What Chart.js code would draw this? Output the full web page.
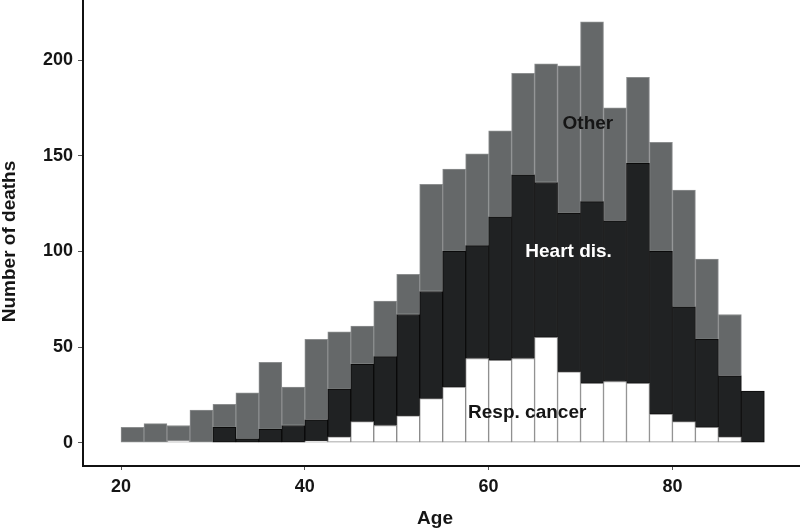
<!DOCTYPE html>
<html>
<head>
<meta charset="utf-8">
<script src="https://cdn.jsdelivr.net/npm/chart.js@4.4.1/dist/chart.umd.min.js"></script>
<style>
html,body{margin:0;padding:0;background:#ffffff;}
#wrap{width:800px;height:529px;}
</style>
</head>
<body>
<div id="wrap"><canvas id="c" width="800" height="529"></canvas></div>
<script>
// ---- data (age bins of 2.5 years, counts of deaths per cause) ----
const binStarts = [20, 22.5, 25, 27.5, 30, 32.5, 35, 37.5, 40, 42.5, 45, 47.5, 50, 52.5,
                   55, 57.5, 60, 62.5, 65, 67.5, 70, 72.5, 75, 77.5, 80, 82.5, 85, 87.5];
const binWidth = 2.5;
const respCancer   = [0, 0, 1, 0, 0, 0, 0, 0, 1, 3, 11, 9, 14, 23, 29, 44, 43, 44, 55, 37, 31, 32, 31, 15, 11, 8, 3, 0];
const heartDisease = [0, 0, 0, 0, 8, 2, 7, 9, 11, 25, 30, 36, 53, 56, 71, 59, 75, 96, 81, 83, 95, 84, 115, 85, 60, 46, 32, 27];
const otherCauses  = [8, 10, 8, 17, 12, 24, 35, 20, 42, 30, 20, 29, 21, 56, 43, 48, 45, 53, 62, 77, 94, 59, 45, 57, 61, 42, 32, 0];
const seriesNames = ['Resp. cancer', 'Heart dis.', 'Other'];
const xTickValues = [20, 40, 60, 80];
const yTickValues = [0, 50, 100, 150, 200];
const xTitle = 'Age';
const yTitle = 'Number of deaths';

// ---- styling ----
const FONT = '"Liberation Sans", Arial, Helvetica, sans-serif';
const TEXT = '#151515';
const styles = [
  {bg: '#ffffff', border: '#8a8a8a'},
  {bg: '#202223', border: '#0a0a0a'},
  {bg: '#656869', border: '#8c8e8f'}
];
// in-plot series labels, anchored in data units (age, deaths)
const seriesLabelAnchors = [
  {text: 'Other',        x: 70.8, y: 163.8, color: '#151515'},
  {text: 'Heart dis.',   x: 68.7, y: 97.2,  color: '#ffffff'},
  {text: 'Resp. cancer', x: 64.2, y: 12.75, color: '#151515'}
];

const seriesValues = [respCancer, heartDisease, otherCauses];
const datasets = seriesValues.map((vals, i) => ({
  label: seriesNames[i],
  data: vals.map((v, k) => ({x: binStarts[k] + binWidth / 2, y: v})),
  backgroundColor: styles[i].bg,
  borderColor: styles[i].border,
  borderWidth: 1,
  borderSkipped: false,
  barPercentage: 1.0,
  categoryPercentage: 1.0
}));

const annotate = {
  id: 'annotate',
  afterDatasetsDraw(chart) {
    const {ctx, scales: {x, y}} = chart;
    ctx.save();
    ctx.font = 'bold 19px ' + FONT;
    ctx.textAlign = 'center';
    ctx.textBaseline = 'alphabetic';
    seriesLabelAnchors.forEach(a => {
      ctx.fillStyle = a.color;
      ctx.fillText(a.text, x.getPixelForValue(a.x), y.getPixelForValue(a.y));
    });
    ctx.restore();
  },
  afterDraw(chart) {
    const {ctx} = chart;
    ctx.save();
    ctx.font = 'bold 19px ' + FONT;
    ctx.fillStyle = TEXT;
    ctx.textAlign = 'center';
    ctx.textBaseline = 'alphabetic';
    ctx.fillText(xTitle, 435, 523.5);
    ctx.translate(14.5, 241.5);
    ctx.rotate(-Math.PI / 2);
    ctx.fillText(yTitle, 0, 0);
    ctx.restore();
  }
};

const tickFont = {family: FONT, size: 18, weight: 'bold'};

new Chart(document.getElementById('c'), {
  type: 'bar',
  data: {datasets},
  options: {
    responsive: false,
    animation: false,
    devicePixelRatio: 1,
    layout: {padding: 0},
    plugins: {legend: {display: false}, tooltip: {enabled: false}, title: {display: false}},
    scales: {
      x: {
        type: 'linear',
        stacked: true,
        offset: false,
        min: 15.865,
        max: 93.88,
        grid: {display: true, offset: false, drawOnChartArea: false, drawTicks: true, tickLength: 4, color: '#555555', lineWidth: 1},
        border: {display: true, color: '#111111', width: 2},
        ticks: {font: tickFont, color: TEXT, padding: 6, maxRotation: 0, autoSkip: false},
        afterBuildTicks: s => { s.ticks = xTickValues.map(v => ({value: v})); },
        afterFit: s => { s.height = 63; s.paddingLeft = 0; s.paddingRight = 0; }
      },
      y: {
        type: 'linear',
        stacked: true,
        min: -12.18,
        max: 231.36,
        grid: {display: true, offset: false, drawOnChartArea: false, drawTicks: true, tickLength: 5, color: '#555555', lineWidth: 1},
        border: {display: true, color: '#111111', width: 2},
        ticks: {font: tickFont, color: TEXT, padding: 5},
        afterBuildTicks: s => { s.ticks = yTickValues.map(v => ({value: v})); },
        afterFit: s => { s.width = 83; s.paddingTop = 0; s.paddingBottom = 0; }
      }
    }
  },
  plugins: [annotate]
});
</script>
</body>
</html>
